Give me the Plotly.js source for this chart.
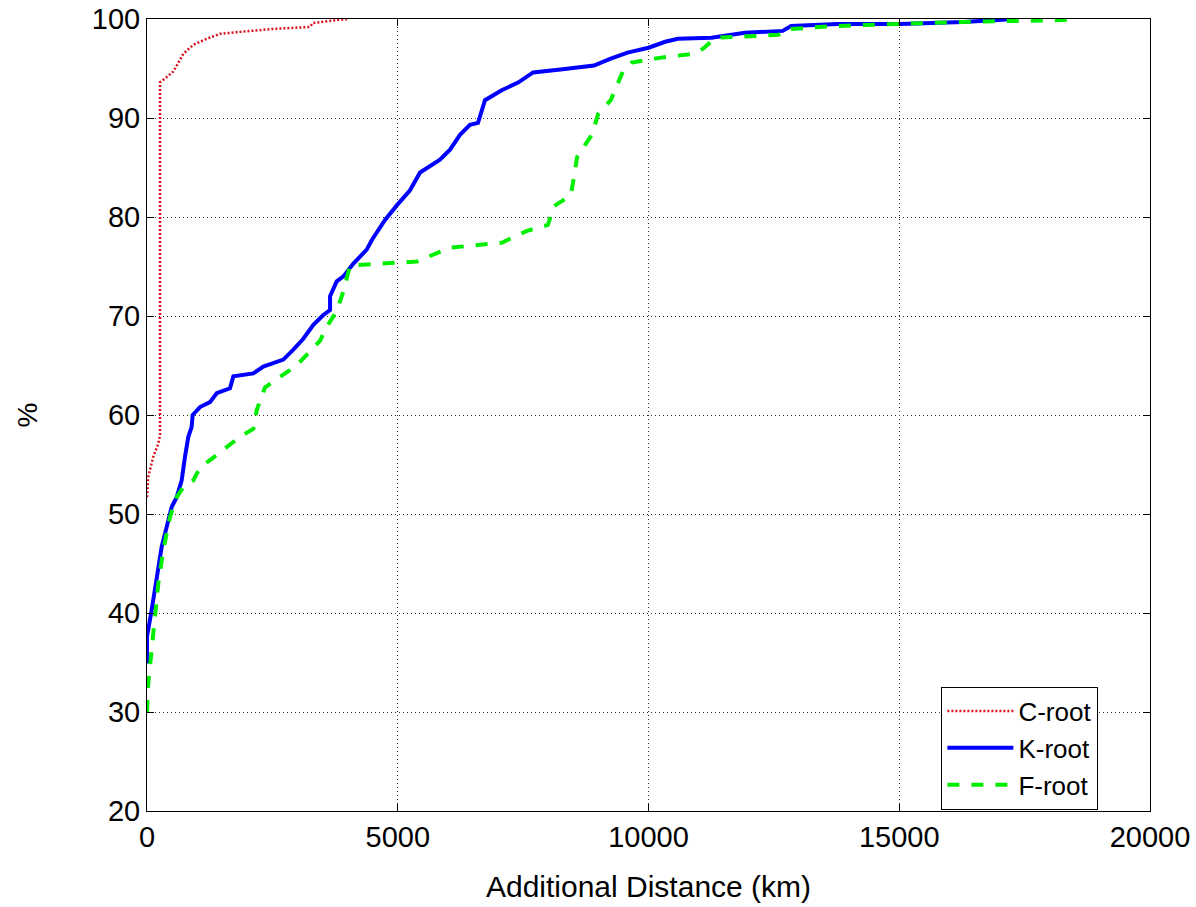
<!DOCTYPE html>
<html>
<head>
<meta charset="utf-8">
<script src="https://cdn.plot.ly/plotly-3.0.1.min.js"></script>
<style>html,body{margin:0;padding:0;background:#fff;}#chart{width:1196px;height:907px;}</style>
</head>
<body>
<div id="chart"></div>
<script>
// C-root (red dotted)
var cX = [0, 27, 126, 225, 260, 260, 360, 525, 725, 925, 1190, 1455, 1855, 2515, 3250, 3310, 3790, 4000];
var cY = [51.7, 53.8, 55.8, 57.1, 58.0, 93.6, 94.0, 94.7, 96.5, 97.4, 98.0, 98.5, 98.7, 99.0, 99.2, 99.6, 99.9, 100];

// K-root (blue solid)
var kX = [0, 0, 93, 160, 226, 293, 393, 492, 592, 692, 758, 824, 891, 910, 1057, 1256, 1390, 1655, 1722, 2120, 2320, 2718, 2918, 3117, 3317, 3516, 3650, 3650, 3783, 3916, 4116, 4381, 4487, 4746, 4985, 5244, 5444, 5842, 6042, 6241, 6440, 6600, 6740, 7073, 7408, 7700, 8244, 8913, 9247, 9582, 10000, 10334, 10585, 11254, 11923, 12676, 12843, 13763, 15017, 16271, 17300];
var kY = [34.9, 37.6, 40.3, 42.3, 44.3, 46.7, 48.7, 50.7, 51.7, 53.4, 55.8, 57.8, 58.8, 60.0, 60.8, 61.3, 62.2, 62.7, 63.9, 64.2, 64.9, 65.6, 66.6, 67.7, 69.1, 70.1, 70.6, 72.0, 73.5, 74.0, 75.3, 76.7, 77.7, 79.7, 81.2, 82.7, 84.5, 85.8, 86.8, 88.3, 89.3, 89.5, 91.8, 92.8, 93.6, 94.6, 94.9, 95.3, 96.0, 96.6, 97.1, 97.7, 98.0, 98.1, 98.6, 98.8, 99.3, 99.5, 99.5, 99.7, 100];

// F-root (green dashed)
var fX = [0, 26, 93, 160, 226, 326, 459, 592, 725, 924, 1057, 1323, 1589, 1855, 2121, 2188, 2354, 2653, 2985, 3450, 3583, 3783, 3916, 4049, 4514, 5046, 5378, 5711, 6042, 7073, 7575, 7993, 8119, 8453, 8579, 8871, 8996, 9247, 9498, 9665, 10251, 10920, 11087, 11338, 12592, 12843, 13763, 15017, 16271, 18278, 18400];
var fY = [30.0, 32.9, 36.3, 39.6, 43.0, 46.4, 49.7, 51.7, 52.7, 53.4, 54.7, 55.7, 56.8, 57.8, 58.6, 60.5, 62.8, 63.8, 65.0, 67.5, 68.9, 70.5, 72.5, 75.1, 75.2, 75.4, 75.5, 76.2, 76.9, 77.4, 78.6, 79.2, 81.1, 82.2, 86.1, 88.3, 90.4, 91.8, 94.8, 95.6, 96.1, 96.5, 97.0, 98.1, 98.4, 99.0, 99.3, 99.5, 99.7, 99.9, 100];

var seriesNames = ["C-root", "K-root", "F-root"];
var xTicks = [0, 5000, 10000, 15000, 20000];
var xTickText = ["0", "5000", "10000", "15000", "20000"];
var yTicks = [20, 30, 40, 50, 60, 70, 80, 90, 100];
var yTickText = ["20", "30", "40", "50", "60", "70", "80", "90", "100"];

var FONT = "Liberation Sans, Arial, sans-serif";

var traces = [
  {x: cX, y: cY, name: seriesNames[0], mode: "lines", line: {color: "#d8101c", width: 2.5, dash: "2px,2px"}},
  {x: kX, y: kY, name: seriesNames[1], mode: "lines", line: {color: "#0000ff", width: 4}},
  {x: fX, y: fY, name: seriesNames[2], mode: "lines", line: {color: "#00ee00", width: 4, dash: "dash"}}
];

var axisCommon = {
  showline: true, linecolor: "#000", linewidth: 1, mirror: "ticks",
  ticks: "inside", ticklen: 7, tickcolor: "#000",
  showgrid: true, gridcolor: "#333", griddash: "1px,3px", gridwidth: 1,
  zeroline: false,
  tickfont: {family: FONT, size: 29, color: "#000"}
};

var layout = {
  width: 1196, height: 907,
  margin: {l: 147, r: 46, t: 19, b: 96},
  paper_bgcolor: "#fff", plot_bgcolor: "#fff",
  showlegend: true,
  xaxis: Object.assign({}, axisCommon, {
    range: [0, 20000], tickmode: "array", tickvals: xTicks, ticktext: xTickText,
    title: {text: "Additional Distance (km)", font: {family: FONT, size: 30, color: "#000"}, standoff: 24}
  }),
  yaxis: Object.assign({}, axisCommon, {
    range: [20, 100], tickmode: "array", tickvals: yTicks, ticktext: yTickText,
    title: {text: "%", font: {family: FONT, size: 28, color: "#000"}, standoff: 46}
  }),
  legend: {
    x: 0.792, y: 0.157, xanchor: "left", yanchor: "top",
    bgcolor: "#fff", bordercolor: "#000", borderwidth: 1,
    itemwidth: 66,
    font: {family: FONT, size: 26, color: "#000"}
  }
};

Plotly.newPlot("chart", traces, layout, {staticPlot: true});
</script>
</body>
</html>
